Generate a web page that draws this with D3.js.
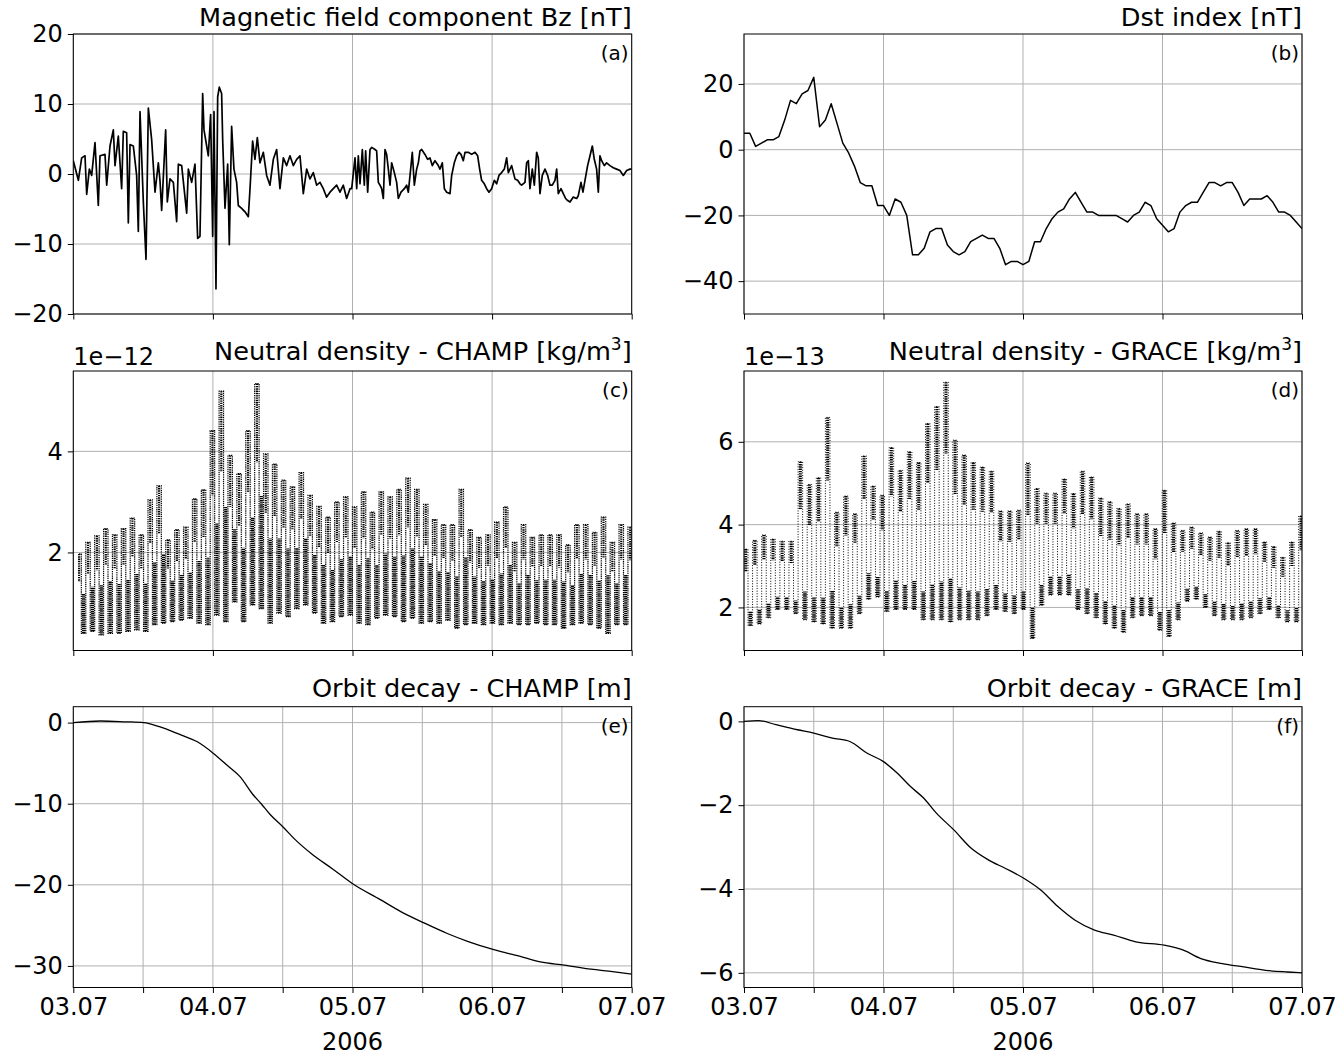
<!DOCTYPE html>
<html>
<head>
<meta charset="utf-8">
<script src="https://cdn.jsdelivr.net/npm/d3@7"></script>
<style>
  body { margin: 0; background: #fff; }
  svg { display: block; }
  text { font-family: "DejaVu Sans", sans-serif; fill: #000; }
</style>
</head>
<body>
<svg id="chart" width="1337" height="1058"></svg>
<script>
// ---------------- data ----------------
const dayTickLabels = ["03.07", "04.07", "05.07", "06.07", "07.07"];
const yearLabel = "2006";
const panelLetters = ["(a)", "(b)", "(c)", "(d)", "(e)", "(f)"];

// (a) IMF Bz [nT] : hours since 2006-07-03 00:00 UTC, value
const bzHours = [0,0.87,1.44,2.01,2.30,2.76,3.16,3.73,4.30,4.59,5.45,5.74,6.31,6.88,7.17,7.74,8.31,8.6,9.17,9.46,
  9.75,10.32,10.89,11.18,11.47,12.04,12.5,12.9,13.47,14.05,14.62,14.9,15.19,15.88,16.16,16.62,17.2,17.77,18.06,18.63,
  19.49,19.78,20.35,20.92,21.38,21.78,22.24,22.47,22.93,23.21,23.61,23.96,24.19,24.53,24.82,25.10,25.5,25.68,26.08,26.54,
  26.82,27.22,27.62,28.08,28.37,28.94,29.52,30.09,30.38,30.83,31.23,31.64,32.09,32.67,33.24,33.81,34.39,34.96,35.53,36.11,
  36.68,37.25,37.82,38.4,38.97,39.54,40.12,40.69,41.26,41.84,42.41,42.98,43.55,44.13,44.7,45.27,45.85,46.42,46.99,47.57,
  47.86,48.43,48.72,49.0,49.29,49.69,50.03,50.26,50.61,51.01,51.29,51.87,52.15,52.44,52.73,53.01,53.3,53.59,53.87,54.16,
  54.45,54.73,55.19,55.59,55.88,56.34,56.91,57.31,57.6,58.06,58.28,58.63,59.03,59.32,59.6,59.89,60.46,60.92,61.32,61.72,
  62.18,62.75,63.04,63.44,63.79,64.19,64.76,65.05,65.5,65.91,66.31,66.65,67.05,67.34,67.91,68.48,69.06,69.52,69.86,70.2,
  70.66,71.06,71.46,71.92,72.38,72.78,73.18,73.64,74.1,74.5,74.79,75.36,75.93,76.39,76.79,77.08,77.65,77.94,78.23,78.51,
  78.91,79.26,79.66,79.94,80.23,80.63,81.09,81.55,81.95,82.35,82.81,83.1,83.38,83.84,84.24,84.64,84.99,85.39,85.96,86.53,
  86.82,87.28,87.62,87.97,88.42,88.83,89.23,89.57,89.97,90.26,90.54,90.83,91.29,91.69,92.26,92.84,93.41,93.98,94.56,95.13,
  95.7,96];
const bzValues = [1.9,-0.9,2.3,2.6,-2.9,0.7,-0.2,4.5,-4.5,2.6,2.8,-1.6,4.0,6.3,1.2,5.4,-2.1,6.1,5.9,-7.0,
  4.2,4.0,-0.2,-8.2,8.9,-4.0,-12.2,9.4,4.9,-2.6,1.6,-0.9,-5.2,6.3,-4.0,-0.7,-1.2,-6.8,1.4,1.2,
  -5.6,0.7,-1.2,1.4,-9.2,-8.9,11.5,6.3,4.0,2.6,8.5,-8.9,8.9,-16.4,11.0,12.4,11.5,4.9,-4.9,1.4,
  -10.1,6.8,0.7,-1.2,-4.5,-4.9,-5.4,-6.1,-2.1,4.7,2.1,5.2,1.6,3.1,-0.2,-1.6,2.1,3.5,-2.1,2.3,
  1.2,2.6,1.2,2.1,2.6,-2.8,0.7,-0.7,0.2,-1.6,-1.2,-2.1,-3.3,-2.6,-2.1,-1.6,-2.6,-1.6,-3.5,-2.1,
  -2.1,2.3,-2.1,2.6,-1.4,3.5,-1.6,3.3,-2.6,3.5,3.8,3.5,3.3,-1.2,-1.6,-2.1,-3.5,3.5,2.8,0.7,
  -1.6,1.6,0.2,-1.2,-3.5,-2.6,-2.1,-1.6,-2.6,1.2,3.1,-1.6,0.7,1.6,3.3,3.5,2.8,2.1,2.3,1.2,
  1.9,1.2,0.7,1.6,-2.1,-2.6,-2.8,-0.2,1.6,2.6,3.1,2.8,1.9,3.1,3.1,2.8,3.1,2.6,0.7,-0.9,
  -1.4,-2.1,-2.6,-2.1,-0.9,-1.4,-0.2,0.2,0.7,2.3,0.2,1.2,-0.7,-0.9,-1.4,-1.6,-1.2,1.6,1.9,-2.1,
  0.7,-1.6,3.1,2.3,-2.8,-0.2,0.7,-0.2,-1.6,-1.6,-0.9,0.7,-2.8,-2.1,-2.8,-3.5,-3.8,-4.0,-3.3,-3.5,
  -3.1,-1.2,-2.6,-0.9,1.2,2.6,4.0,2.1,0.7,-2.6,2.6,1.9,1.2,1.6,1.2,0.9,0.7,0.5,-0.2,0.5,
  0.7,0.7];

// (b) Dst index [nT], hourly values from 03.07 00 UT to 07.07 00 UT
const dstValues = [5,5,1,2,3,3,4,9,15,14,17,18,22,7,9,14,8,2,-1,-5,
  -10,-11,-11,-17,-17,-20,-15,-16,-20,-32,-32,-30,-25,-24,-24,-29,-31,-32,-31,-28,
  -27,-26,-27,-27,-30,-35,-34,-34,-35,-34,-28,-28,-24,-21,-19,-18,-15,-13,-16,-19,
  -19,-20,-20,-20,-20,-21,-22,-20,-19,-16,-17,-21,-23,-25,-24,-19,-17,-16,-16,-13,
  -10,-10,-11,-10,-10,-13,-17,-15,-15,-15,-14,-16,-19,-19,-20,-22,-24];

// (c) CHAMP neutral density [1e-12 kg/m^3]: per-orbit maxima and minima
const champFirstPeakHour = 1.0, champOrbitHours = 1.528;
const champPeaks = [1.97,2.2,2.33,2.47,2.35,2.47,2.68,2.35,3.04,3.32,2.25,2.45,2.5,3.06,3.24,4.41,5.19,3.92,3.56,4.41,
  5.34,3.95,3.75,3.43,3.3,3.58,3.13,2.91,2.7,3.0,3.1,2.9,3.2,2.8,3.2,3.1,3.25,3.47,3.25,2.95,
  2.65,2.55,2.55,3.25,2.45,2.3,2.35,2.6,2.9,2.2,2.55,2.3,2.35,2.35,2.35,2.15,2.55,2.55,2.4,2.7,
  2.2,2.55,2.5];
const champTroughs = [0.40,0.44,0.37,0.40,0.40,0.44,0.47,0.44,0.57,0.60,0.63,0.66,0.70,0.60,0.57,0.76,0.63,1.02,0.63,0.96,
  0.89,0.60,0.80,0.73,0.89,0.96,0.80,0.60,0.63,0.73,0.76,0.60,0.57,0.70,0.76,0.73,0.63,0.70,0.60,0.63,
  0.60,0.66,0.50,0.57,0.60,0.57,0.60,0.57,0.60,0.57,0.57,0.60,0.57,0.57,0.50,0.57,0.60,0.57,0.50,0.40,
  0.57,0.57,0.63];

// (d) GRACE neutral density [1e-13 kg/m^3]: per-orbit maxima and minima
const graceFirstPeakHour = 0.3, graceOrbitHours = 1.566;
const gracePeaks = [3.41,3.62,3.75,3.65,3.6,3.6,5.52,4.97,5.13,6.59,4.30,4.69,4.26,5.66,4.93,4.71,5.86,5.31,5.76,5.5,
  6.44,6.85,7.44,6.04,5.68,5.5,5.39,5.29,4.33,4.33,4.35,5.49,4.87,4.76,4.76,5.1,4.75,5.29,5.15,4.64,
  4.55,4.39,4.5,4.26,4.26,3.9,4.83,4.04,3.86,3.94,3.8,3.7,3.84,3.56,3.86,3.9,3.9,3.58,3.47,3.21,
  3.58,4.21];
const graceTroughs = [1.56,1.6,1.75,1.95,1.95,1.85,1.7,1.65,1.6,1.5,1.5,1.5,1.85,2.2,2.25,1.9,1.95,1.95,1.95,1.7,
  1.7,1.7,1.65,1.7,1.7,1.7,1.8,1.95,1.9,1.85,1.95,1.25,2.05,2.3,2.3,2.3,1.95,1.85,1.75,1.6,
  1.5,1.4,1.75,1.8,1.8,1.45,1.3,1.7,2.15,2.2,2.0,1.8,1.7,1.7,1.7,1.75,1.85,1.95,1.75,1.65,
  1.65,1.4];

// (e) CHAMP orbit decay [m]
const champDecayHours = [0,4.7,9,12.1,14.8,18.1,21.4,24.1,26.5,28.7,30.8,32.3,33.8,36.1,38.1,41,44.7,48.3,52.7,56.3,
  60.3,64.3,67.9,72.3,76.7,80.3,84.4,89,92.7,96];
const champDecayValues = [0,0.2,0.1,0,-0.5,-1.4,-2.4,-3.8,-5.3,-6.7,-8.8,-10,-11.3,-12.9,-14.4,-16.2,-18.1,-20,-21.8,-23.3,
  -24.7,-26,-27,-28,-28.8,-29.5,-29.9,-30.4,-30.7,-31.0];

// (f) GRACE orbit decay [m]
const graceDecayHours = [0,2.5,5.5,9.2,12,15.2,18.2,21.2,24,26.4,28.6,30.9,33.1,36.1,39.1,42.1,45,48.2,51,54,
  56.9,60.3,63.6,67.4,72.3,75.6,78.6,82.3,86,89.7,93.5,96];
const graceDecayValues = [0,0.02,-0.08,-0.2,-0.28,-0.4,-0.48,-0.76,-0.96,-1.24,-1.55,-1.83,-2.19,-2.59,-3.03,-3.31,-3.51,-3.75,-4.02,-4.42,
  -4.74,-4.98,-5.1,-5.26,-5.34,-5.46,-5.66,-5.78,-5.86,-5.94,-5.98,-6.0];

// ---------------- layout ----------------
const svg = d3.select("#chart");
const T0 = Date.UTC(2006, 6, 3);
const hr = h => new Date(T0 + h * 3600e3);
const cols = [{x0: 73.3, x1: 631.7}, {x0: 744, x1: 1302}];
const rows = [{y0: 34, y1: 314, tb: 26}, {y0: 371, y1: 650.5, tb: 360}, {y0: 706.7, y1: 987.5, tb: 697}];
const TICK_FS = 24, TITLE_FS = 25.6, LETTER_FS = 20;
const minus = s => String(s).replace("-", "\u2212");

function makePanel(idx, col, row, cfg) {
  const C = cols[col], R = rows[row];
  const g = svg.append("g");
  const x = d3.scaleUtc().domain([hr(0), hr(96)]).range([C.x0, C.x1]);
  const y = d3.scaleLinear().domain(cfg.yDomain).range([R.y1, R.y0]);
  const bottom = row === 2;
  const xTicks = bottom ? d3.utcHour.every(12).range(hr(0), hr(96.01)) : d3.utcDay.range(hr(0), hr(96.01));

  const grid = g.append("g").attr("stroke", "#b0b0b0").attr("stroke-width", 1);
  xTicks.forEach(d => grid.append("line").attr("x1", x(d)).attr("x2", x(d)).attr("y1", R.y0).attr("y2", R.y1));
  cfg.yTicks.forEach(v => grid.append("line").attr("x1", C.x0).attr("x2", C.x1).attr("y1", y(v)).attr("y2", y(v)));

  const cid = "clip" + idx;
  svg.append("clipPath").attr("id", cid).append("rect")
    .attr("x", C.x0).attr("y", R.y0).attr("width", C.x1 - C.x0).attr("height", R.y1 - R.y0);
  const data = g.append("g").attr("clip-path", `url(#${cid})`);
  cfg.draw(data, x, y);

  g.append("rect").attr("x", C.x0).attr("y", R.y0).attr("width", C.x1 - C.x0).attr("height", R.y1 - R.y0)
    .attr("fill", "none").attr("stroke", "#000").attr("stroke-width", 1);

  const yAxis = d3.axisLeft(y).tickValues(cfg.yTicks).tickSize(5.5).tickPadding(5).tickFormat(v => minus(v));
  const ya = g.append("g").attr("transform", `translate(${C.x0},0)`).call(yAxis);
  ya.select(".domain").remove();
  ya.selectAll("text").attr("font-size", TICK_FS).attr("font-family", "DejaVu Sans").attr("fill", "#000");

  const xAxis = d3.axisBottom(x).tickValues(xTicks).tickSize(5.5).tickPadding(5)
    .tickFormat(d => (bottom && d.getUTCHours() === 0) ? dayTickLabels[Math.round((d - T0) / 864e5)] : "");
  const xa = g.append("g").attr("transform", `translate(0,${R.y1})`).call(xAxis);
  xa.select(".domain").remove();
  xa.selectAll("text").attr("font-size", TICK_FS).attr("font-family", "DejaVu Sans").attr("fill", "#000");
  if (bottom) {
    g.append("text").attr("x", (C.x0 + C.x1) / 2).attr("y", 1050).attr("text-anchor", "middle")
      .attr("font-size", TICK_FS).text(yearLabel);
  }

  const t = g.append("text").attr("x", C.x1).attr("y", R.tb).attr("text-anchor", "end").attr("font-size", TITLE_FS);
  t.append("tspan").text(cfg.title);
  if (cfg.sup) {
    t.append("tspan").attr("font-size", 17).attr("dy", -10).text(cfg.sup);
    t.append("tspan").attr("dy", 10).text("]");
  }
  if (cfg.offset) {
    g.append("text").attr("x", C.x0).attr("y", R.y0 - 6).attr("font-size", TICK_FS).text(cfg.offset);
  }
  g.append("text").attr("x", C.x1 - 3).attr("y", R.y0 + 26).attr("text-anchor", "end")
    .attr("font-size", LETTER_FS).text(panelLetters[idx]);
}

function densityPoints(peaks, troughs, first, period) {
  const pts = [];
  peaks.forEach((p, i) => {
    pts.push({t: first + i * period, v: p, k: "p", lo: troughs[i]});
    pts.push({t: first + (i + 0.5) * period, v: troughs[i], k: "t", hi: p});
  });
  return pts;
}

// st: {legW, legDash, topFrac, botFrac, topW, botW}
function drawDensity(gd, x, y, pts, st) {
  const line = d3.line().curve(d3.curveStep).x(d => x(hr(d.t))).y(d => y(d.v));
  gd.append("path").datum(pts).attr("d", line).attr("fill", "none").attr("stroke", "#000")
    .attr("stroke-width", st.legW).attr("stroke-dasharray", st.legDash);
  const peaks = pts.filter(d => d.k === "p"), troughs = pts.filter(d => d.k === "t");
  gd.selectAll("line.top").data(peaks).join("line")
    .attr("x1", d => x(hr(d.t))).attr("x2", d => x(hr(d.t)))
    .attr("y1", d => y(d.v)).attr("y2", d => y(d.v - st.topFrac * (d.v - d.lo)))
    .attr("stroke", "#000").attr("stroke-width", st.topW).attr("stroke-dasharray", "1.4 0.9");
  gd.selectAll("line.bot").data(troughs).join("line")
    .attr("x1", d => x(hr(d.t))).attr("x2", d => x(hr(d.t)))
    .attr("y1", d => y(d.v)).attr("y2", d => y(d.v + st.botFrac * (d.hi - d.v)))
    .attr("stroke", "#000").attr("stroke-width", st.botW).attr("stroke-dasharray", "1.4 0.7");
}

makePanel(0, 0, 0, {
  title: "Magnetic field component Bz [nT]", yDomain: [-20, 20], yTicks: [-20, -10, 0, 10, 20],
  draw: (gd, x, y) => {
    const line = d3.line().x((d, i) => x(hr(bzHours[i]))).y(d => y(d));
    gd.append("path").datum(bzValues).attr("d", line).attr("fill", "none").attr("stroke", "#000")
      .attr("stroke-width", 1.7).attr("stroke-linejoin", "round");
  }
});
makePanel(1, 1, 0, {
  title: "Dst index [nT]", yDomain: [-50, 35.2], yTicks: [-40, -20, 0, 20],
  draw: (gd, x, y) => {
    const line = d3.line().x((d, i) => x(hr(i))).y(d => y(d));
    gd.append("path").datum(dstValues).attr("d", line).attr("fill", "none").attr("stroke", "#000")
      .attr("stroke-width", 1.5).attr("stroke-linejoin", "round");
  }
});
makePanel(2, 0, 1, {
  title: "Neutral density - CHAMP [kg/m", sup: "3", offset: "1e\u221212",
  yDomain: [0.06, 5.59], yTicks: [2, 4],
  draw: (gd, x, y) => drawDensity(gd, x, y,
    densityPoints(champPeaks, champTroughs, champFirstPeakHour, champOrbitHours),
    {legW: 1.2, legDash: "1.3 0.9", topFrac: 0.35, botFrac: 0.5, topW: 2.2, botW: 3.2})
});
makePanel(3, 1, 1, {
  title: "Neutral density - GRACE [kg/m", sup: "3", offset: "1e\u221213",
  yDomain: [0.96, 7.71], yTicks: [2, 4, 6],
  draw: (gd, x, y) => drawDensity(gd, x, y,
    densityPoints(gracePeaks, graceTroughs, graceFirstPeakHour, graceOrbitHours),
    {legW: 1, legDash: "1 1.6", topFrac: 0.3, botFrac: 0.18, topW: 3, botW: 3.6})
});
makePanel(4, 0, 2, {
  title: "Orbit decay - CHAMP [m]", yDomain: [-32.66, 1.96], yTicks: [-30, -20, -10, 0],
  draw: (gd, x, y) => {
    const line = d3.line().curve(d3.curveMonotoneX).x((d, i) => x(hr(champDecayHours[i]))).y(d => y(d));
    gd.append("path").datum(champDecayValues).attr("d", line).attr("fill", "none").attr("stroke", "#000").attr("stroke-width", 1.3);
  }
});
makePanel(5, 1, 2, {
  title: "Orbit decay - GRACE [m]", yDomain: [-6.35, 0.35], yTicks: [-6, -4, -2, 0],
  draw: (gd, x, y) => {
    const line = d3.line().curve(d3.curveMonotoneX).x((d, i) => x(hr(graceDecayHours[i]))).y(d => y(d));
    gd.append("path").datum(graceDecayValues).attr("d", line).attr("fill", "none").attr("stroke", "#000").attr("stroke-width", 1.3);
  }
});
</script>
</body>
</html>
